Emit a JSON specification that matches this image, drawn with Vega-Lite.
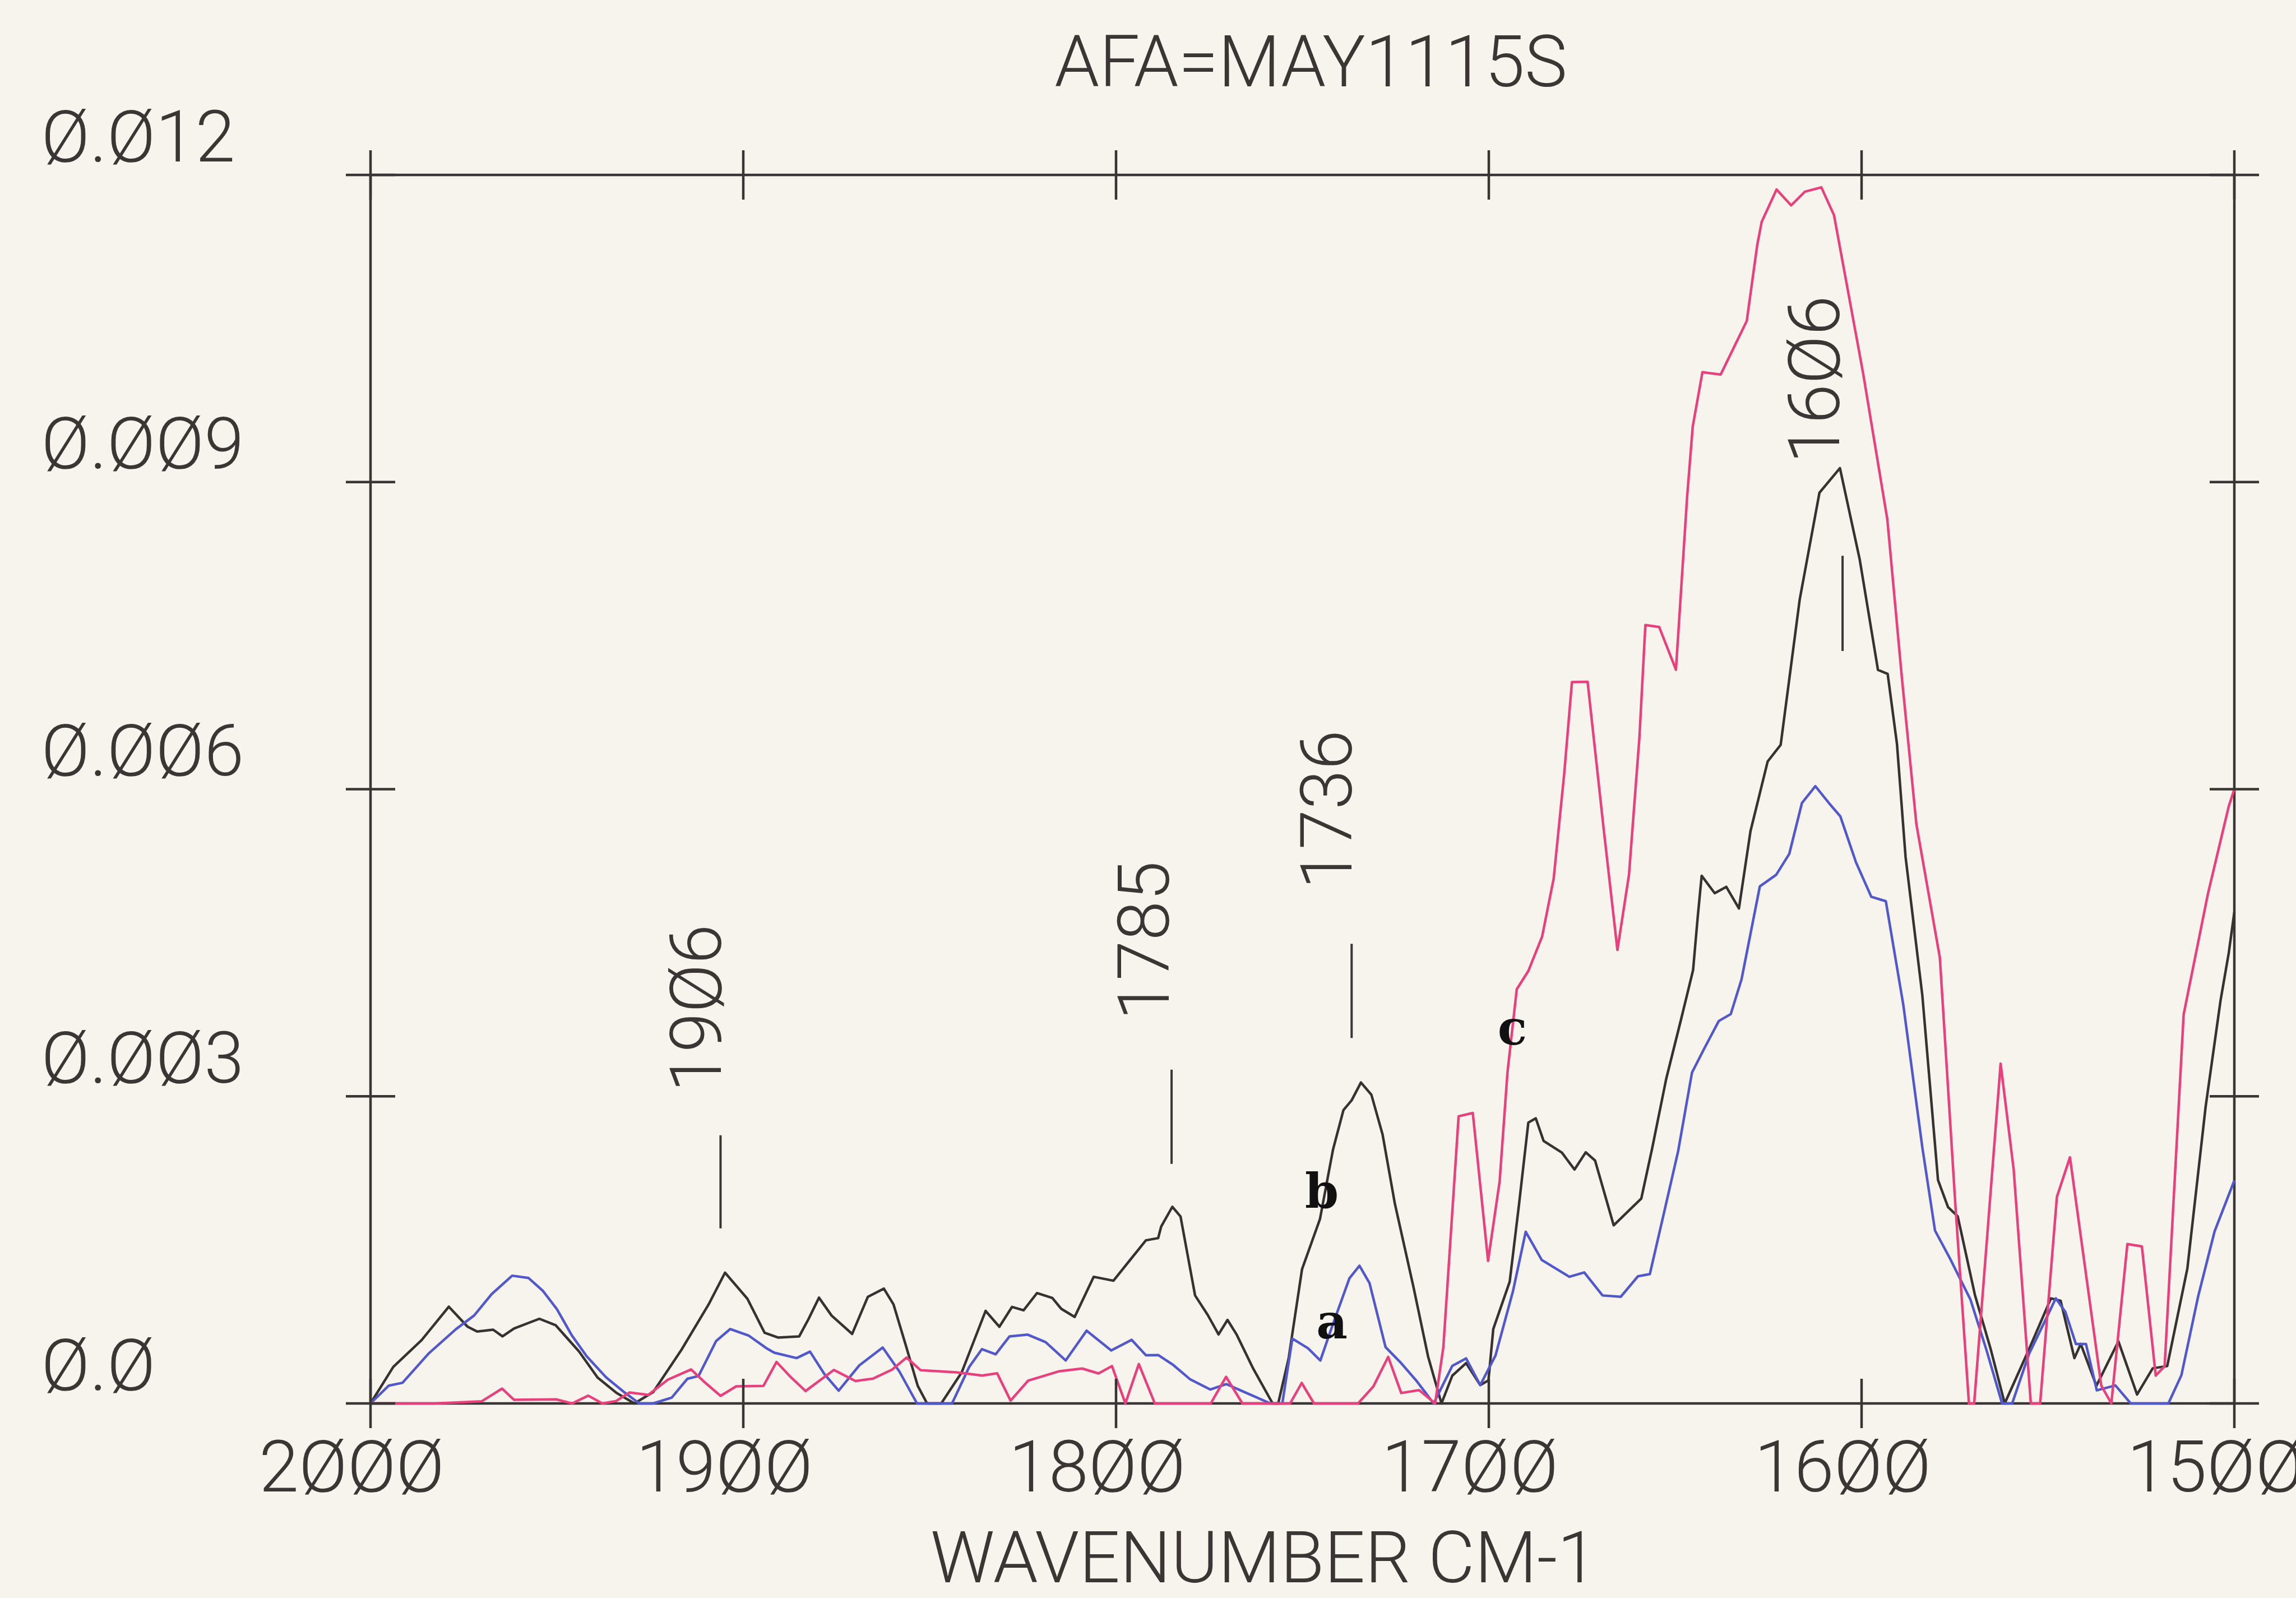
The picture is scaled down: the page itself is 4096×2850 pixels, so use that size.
{
"$schema": "https://vega.github.io/schema/vega-lite/v6.json",
"width": 3325, "height": 2191,
"autosize": {"type": "none"},
"padding": {"left": 661, "top": 312, "right": 110, "bottom": 347},
"background": "#f6f4ec",
"config": {"view": {"stroke": "#3a3535", "strokeWidth": 4.5}},
"title": {"text": "AFA=MAY1115S", "anchor": "middle", "frame": "group", "offset": 0, "dy": 97, "baseline": "alphabetic", "font": "Roboto", "fontSize": 128, "fontWeight": 300, "color": "#3b3535", "dx": 15},
"datasets": {
"spectra": [
{"s":"b","i":1,"w":2000,"a":0},{"s":"b","i":2,"w":1993.9,"a":0.000357},{"s":"b","i":3,"w":1986.3,"a":0.000618},{"s":"b","i":4,"w":1979,"a":0.000945},{"s":"b","i":5,"w":1974,"a":0.000751},{"s":"b","i":6,"w":1971.4,"a":0.000702},{"s":"b","i":7,"w":1967.1,"a":0.00072},{"s":"b","i":8,"w":1964.6,"a":0.000655},{"s":"b","i":9,"w":1961.5,"a":0.000732},{"s":"b","i":10,"w":1954.7,"a":0.000827},
{"s":"b","i":11,"w":1950.3,"a":0.000763},{"s":"b","i":12,"w":1944.1,"a":0.000509},{"s":"b","i":13,"w":1939.1,"a":0.000253},{"s":"b","i":14,"w":1934.1,"a":0.000105},{"s":"b","i":15,"w":1929.2,"a":0},{"s":"b","i":16,"w":1924.2,"a":0.00011},{"s":"b","i":17,"w":1916.6,"a":0.000523},{"s":"b","i":18,"w":1909.3,"a":0.000967},{"s":"b","i":19,"w":1904.9,"a":0.001277},{"s":"b","i":20,"w":1898.9,"a":0.001023},
{"s":"b","i":21,"w":1894.3,"a":0.000691},{"s":"b","i":22,"w":1890.6,"a":0.000643},{"s":"b","i":23,"w":1885,"a":0.000655},{"s":"b","i":24,"w":1882.5,"a":0.000824},{"s":"b","i":25,"w":1879.7,"a":0.001033},{"s":"b","i":26,"w":1876.3,"a":0.000858},{"s":"b","i":27,"w":1870.8,"a":0.000679},{"s":"b","i":28,"w":1866.6,"a":0.00104},{"s":"b","i":29,"w":1862.3,"a":0.001122},{"s":"b","i":30,"w":1859.7,"a":0.000967},
{"s":"b","i":31,"w":1856.5,"a":0.00058},{"s":"b","i":32,"w":1853.2,"a":0.000172},{"s":"b","i":33,"w":1850.7,"a":0},{"s":"b","i":34,"w":1846.9,"a":0},{"s":"b","i":35,"w":1841.4,"a":0.000304},{"s":"b","i":36,"w":1835,"a":0.000904},{"s":"b","i":37,"w":1831.3,"a":0.000749},{"s":"b","i":38,"w":1827.9,"a":0.000943},{"s":"b","i":39,"w":1824.8,"a":0.00091},{"s":"b","i":40,"w":1821.2,"a":0.001078},
{"s":"b","i":41,"w":1817.1,"a":0.00103},{"s":"b","i":42,"w":1814.7,"a":0.000924},{"s":"b","i":43,"w":1811.1,"a":0.000845},{"s":"b","i":44,"w":1806,"a":0.001237},{"s":"b","i":45,"w":1800.7,"a":0.001199},{"s":"b","i":46,"w":1796.4,"a":0.001394},{"s":"b","i":47,"w":1792,"a":0.001593},{"s":"b","i":48,"w":1788.7,"a":0.001615},{"s":"b","i":49,"w":1787.9,"a":0.001727},{"s":"b","i":50,"w":1784.9,"a":0.001921},
{"s":"b","i":51,"w":1782.7,"a":0.001826},{"s":"b","i":52,"w":1778.8,"a":0.001055},{"s":"b","i":53,"w":1775.4,"a":0.000864},{"s":"b","i":54,"w":1772.5,"a":0.000674},{"s":"b","i":55,"w":1770.1,"a":0.000816},{"s":"b","i":56,"w":1767.7,"a":0.000676},{"s":"b","i":57,"w":1763.2,"a":0.00034},{"s":"b","i":58,"w":1758,"a":0},{"s":"b","i":59,"w":1756.5,"a":0},{"s":"b","i":60,"w":1753.7,"a":0.000441},
{"s":"b","i":61,"w":1750.1,"a":0.001312},{"s":"b","i":62,"w":1745.3,"a":0.0018},{"s":"b","i":63,"w":1741.8,"a":0.002479},{"s":"b","i":64,"w":1739,"a":0.002865},{"s":"b","i":65,"w":1736.8,"a":0.002961},{"s":"b","i":66,"w":1734.3,"a":0.003135},{"s":"b","i":67,"w":1731.5,"a":0.003015},{"s":"b","i":68,"w":1728.5,"a":0.002627},{"s":"b","i":69,"w":1725.2,"a":0.001951},{"s":"b","i":70,"w":1720.2,"a":0.001135},
{"s":"b","i":71,"w":1716.3,"a":0.00046},{"s":"b","i":72,"w":1712.7,"a":0},{"s":"b","i":73,"w":1709.8,"a":0.000271},{"s":"b","i":74,"w":1706.1,"a":0.000394},{"s":"b","i":75,"w":1702.3,"a":0.000179},{"s":"b","i":76,"w":1700.1,"a":0.000225},{"s":"b","i":77,"w":1698.8,"a":0.000727},{"s":"b","i":78,"w":1694.4,"a":0.001189},{"s":"b","i":79,"w":1691.9,"a":0.001943},{"s":"b","i":80,"w":1689.4,"a":0.002743},
{"s":"b","i":81,"w":1687.4,"a":0.002785},{"s":"b","i":82,"w":1685.3,"a":0.002564},{"s":"b","i":83,"w":1680.4,"a":0.00245},{"s":"b","i":84,"w":1677,"a":0.002285},{"s":"b","i":85,"w":1674,"a":0.002453},{"s":"b","i":86,"w":1671.5,"a":0.002373},{"s":"b","i":87,"w":1666.5,"a":0.00174},{"s":"b","i":88,"w":1661.9,"a":0.001903},{"s":"b","i":89,"w":1659.1,"a":0.002001},{"s":"b","i":90,"w":1656.2,"a":0.002488},
{"s":"b","i":91,"w":1652.4,"a":0.003172},{"s":"b","i":92,"w":1648.4,"a":0.003755},{"s":"b","i":93,"w":1645.2,"a":0.004233},{"s":"b","i":94,"w":1644,"a":0.004734},{"s":"b","i":95,"w":1642.9,"a":0.005154},{"s":"b","i":96,"w":1639.4,"a":0.004984},{"s":"b","i":97,"w":1636.3,"a":0.005046},{"s":"b","i":98,"w":1632.9,"a":0.004835},{"s":"b","i":99,"w":1629.8,"a":0.00559},{"s":"b","i":100,"w":1625.2,"a":0.00627},
{"s":"b","i":101,"w":1621.7,"a":0.006434},{"s":"b","i":102,"w":1616.6,"a":0.007852},{"s":"b","i":103,"w":1611.3,"a":0.008896},{"s":"b","i":104,"w":1605.8,"a":0.009136},{"s":"b","i":105,"w":1600.5,"a":0.008244},{"s":"b","i":106,"w":1595.6,"a":0.007165},{"s":"b","i":107,"w":1593,"a":0.007126},{"s":"b","i":108,"w":1590.5,"a":0.00644},{"s":"b","i":109,"w":1588.2,"a":0.005339},{"s":"b","i":110,"w":1583.7,"a":0.003986},
{"s":"b","i":111,"w":1579.5,"a":0.002183},{"s":"b","i":112,"w":1576.8,"a":0.001917},{"s":"b","i":113,"w":1574.2,"a":0.001827},{"s":"b","i":114,"w":1569.6,"a":0.001061},{"s":"b","i":115,"w":1565.3,"a":0.000522},{"s":"b","i":116,"w":1561.6,"a":0},{"s":"b","i":117,"w":1555.1,"a":0.000528},{"s":"b","i":118,"w":1549.2,"a":0.001026},{"s":"b","i":119,"w":1546.6,"a":0.001002},{"s":"b","i":120,"w":1542.9,"a":0.000443},
{"s":"b","i":121,"w":1541.2,"a":0.000581},{"s":"b","i":122,"w":1537,"a":0.000173},{"s":"b","i":123,"w":1531.1,"a":0.000606},{"s":"b","i":124,"w":1526.1,"a":0.000087},{"s":"b","i":125,"w":1521.9,"a":0.000343},{"s":"b","i":126,"w":1518,"a":0.000365},{"s":"b","i":127,"w":1512.6,"a":0.001318},{"s":"b","i":128,"w":1507.7,"a":0.002898},{"s":"b","i":129,"w":1503.7,"a":0.003936},{"s":"b","i":130,"w":1501.5,"a":0.0044},{"s":"b","i":131,"w":1500,"a":0.0048},
{"s":"a","i":1,"w":2000,"a":0},{"s":"a","i":2,"w":1995.1,"a":0.000174},{"s":"a","i":3,"w":1991.4,"a":0.000202},{"s":"a","i":4,"w":1984.4,"a":0.000488},{"s":"a","i":5,"w":1977.1,"a":0.000725},{"s":"a","i":6,"w":1972.2,"a":0.000859},{"s":"a","i":7,"w":1967.5,"a":0.001068},{"s":"a","i":8,"w":1962,"a":0.001248},{"s":"a","i":9,"w":1957.6,"a":0.001225},{"s":"a","i":10,"w":1953.8,"a":0.001101},
{"s":"a","i":11,"w":1950,"a":0.000921},{"s":"a","i":12,"w":1946,"a":0.000665},{"s":"a","i":13,"w":1942,"a":0.00046},{"s":"a","i":14,"w":1936.8,"a":0.000255},{"s":"a","i":15,"w":1931.8,"a":0.000106},{"s":"a","i":16,"w":1927.9,"a":0},{"s":"a","i":17,"w":1924.2,"a":0},{"s":"a","i":18,"w":1919.2,"a":0.000057},{"s":"a","i":19,"w":1915,"a":0.000241},{"s":"a","i":20,"w":1912,"a":0.000268},
{"s":"a","i":21,"w":1907.3,"a":0.000609},{"s":"a","i":22,"w":1903.5,"a":0.000727},{"s":"a","i":23,"w":1898.6,"a":0.000664},{"s":"a","i":24,"w":1893.6,"a":0.000535},{"s":"a","i":25,"w":1891.7,"a":0.000496},{"s":"a","i":26,"w":1885.7,"a":0.000443},{"s":"a","i":27,"w":1882.1,"a":0.000506},{"s":"a","i":28,"w":1878.2,"a":0.000285},{"s":"a","i":29,"w":1874.4,"a":0.000125},{"s":"a","i":30,"w":1868.9,"a":0.000371},
{"s":"a","i":31,"w":1862.6,"a":0.000546},{"s":"a","i":32,"w":1858.1,"a":0.000311},{"s":"a","i":33,"w":1853.4,"a":0},{"s":"a","i":34,"w":1844,"a":0},{"s":"a","i":35,"w":1839.4,"a":0.000356},{"s":"a","i":36,"w":1836,"a":0.00053},{"s":"a","i":37,"w":1832.3,"a":0.00048},{"s":"a","i":38,"w":1828.6,"a":0.000654},{"s":"a","i":39,"w":1823.7,"a":0.000672},{"s":"a","i":40,"w":1818.9,"a":0.000599},
{"s":"a","i":41,"w":1813.5,"a":0.00042},{"s":"a","i":42,"w":1807.9,"a":0.000711},{"s":"a","i":43,"w":1801.3,"a":0.000517},{"s":"a","i":44,"w":1795.8,"a":0.000621},{"s":"a","i":45,"w":1792,"a":0.000471},{"s":"a","i":46,"w":1788.7,"a":0.000473},{"s":"a","i":47,"w":1784.6,"a":0.000374},{"s":"a","i":48,"w":1780.1,"a":0.000235},{"s":"a","i":49,"w":1774.7,"a":0.000136},{"s":"a","i":50,"w":1770.4,"a":0.000189},
{"s":"a","i":51,"w":1766.2,"a":0.000121},{"s":"a","i":52,"w":1758.6,"a":0},{"s":"a","i":53,"w":1755.4,"a":0},{"s":"a","i":54,"w":1752.7,"a":0.000633},{"s":"a","i":55,"w":1748.5,"a":0.000539},{"s":"a","i":56,"w":1745.2,"a":0.000419},{"s":"a","i":57,"w":1742.2,"a":0.000735},{"s":"a","i":58,"w":1737.4,"a":0.001222},{"s":"a","i":59,"w":1734.7,"a":0.001345},{"s":"a","i":60,"w":1732,"a":0.001175},
{"s":"a","i":61,"w":1727.7,"a":0.00055},{"s":"a","i":62,"w":1723.8,"a":0.000405},{"s":"a","i":63,"w":1719.3,"a":0.000216},{"s":"a","i":64,"w":1714.8,"a":0},{"s":"a","i":65,"w":1709.8,"a":0.000367},{"s":"a","i":66,"w":1706.1,"a":0.00044},{"s":"a","i":67,"w":1702.3,"a":0.000179},{"s":"a","i":68,"w":1698.2,"a":0.000469},{"s":"a","i":69,"w":1693.5,"a":0.001099},{"s":"a","i":70,"w":1690.1,"a":0.001677},
{"s":"a","i":71,"w":1685.8,"a":0.001401},{"s":"a","i":72,"w":1678.4,"a":0.001237},{"s":"a","i":73,"w":1674.4,"a":0.00128},{"s":"a","i":74,"w":1669.5,"a":0.001055},{"s":"a","i":75,"w":1664.6,"a":0.001042},{"s":"a","i":76,"w":1660,"a":0.001242},{"s":"a","i":77,"w":1656.8,"a":0.001264},{"s":"a","i":78,"w":1652.9,"a":0.001878},{"s":"a","i":79,"w":1649.2,"a":0.002466},{"s":"a","i":80,"w":1645.5,"a":0.003231},
{"s":"a","i":81,"w":1642.3,"a":0.00346},{"s":"a","i":82,"w":1638.3,"a":0.003736},{"s":"a","i":83,"w":1635.1,"a":0.003803},{"s":"a","i":84,"w":1632.2,"a":0.004143},{"s":"a","i":85,"w":1627.3,"a":0.00505},{"s":"a","i":86,"w":1622.9,"a":0.005164},{"s":"a","i":87,"w":1619.4,"a":0.005368},{"s":"a","i":88,"w":1616,"a":0.005865},{"s":"a","i":89,"w":1612.4,"a":0.006029},{"s":"a","i":90,"w":1608.4,"a":0.005849},
{"s":"a","i":91,"w":1605.7,"a":0.005734},{"s":"a","i":92,"w":1601.5,"a":0.005286},{"s":"a","i":93,"w":1597.4,"a":0.004949},{"s":"a","i":94,"w":1593.5,"a":0.004906},{"s":"a","i":95,"w":1588.8,"a":0.003892},{"s":"a","i":96,"w":1583.7,"a":0.0025},{"s":"a","i":97,"w":1580.3,"a":0.001688},{"s":"a","i":98,"w":1576.3,"a":0.001417},{"s":"a","i":99,"w":1570.8,"a":0.001015},{"s":"a","i":100,"w":1566.5,"a":0.000522},
{"s":"a","i":101,"w":1562.3,"a":0},{"s":"a","i":102,"w":1559.6,"a":0},{"s":"a","i":103,"w":1555.1,"a":0.000482},{"s":"a","i":104,"w":1550.3,"a":0.000844},{"s":"a","i":105,"w":1547.9,"a":0.001027},{"s":"a","i":106,"w":1545.3,"a":0.000892},{"s":"a","i":107,"w":1542.5,"a":0.00058},{"s":"a","i":108,"w":1539.8,"a":0.000581},{"s":"a","i":109,"w":1536.9,"a":0.000128},{"s":"a","i":110,"w":1531.9,"a":0.000176},
{"s":"a","i":111,"w":1527.8,"a":0},{"s":"a","i":112,"w":1517.7,"a":0},{"s":"a","i":113,"w":1514.2,"a":0.000276},{"s":"a","i":114,"w":1509.7,"a":0.001047},{"s":"a","i":115,"w":1505.3,"a":0.001681},{"s":"a","i":116,"w":1500,"a":0.002178},
{"s":"c","i":1,"w":2000,"a":0},{"s":"c","i":2,"w":1982.7,"a":0},{"s":"c","i":3,"w":1970.2,"a":0.00002},{"s":"c","i":4,"w":1964.7,"a":0.000145},{"s":"c","i":5,"w":1961.5,"a":0.000035},{"s":"c","i":6,"w":1950.2,"a":0.00004},{"s":"c","i":7,"w":1945.9,"a":0},{"s":"c","i":8,"w":1941.6,"a":0.000076},{"s":"c","i":9,"w":1937.8,"a":0},{"s":"c","i":10,"w":1934.1,"a":0.000024},
{"s":"c","i":11,"w":1930.5,"a":0.000107},{"s":"c","i":12,"w":1925.5,"a":0.000084},{"s":"c","i":13,"w":1920.2,"a":0.000233},{"s":"c","i":14,"w":1914,"a":0.000332},{"s":"c","i":15,"w":1910.7,"a":0.000218},{"s":"c","i":16,"w":1906.1,"a":0.000074},{"s":"c","i":17,"w":1901.9,"a":0.000167},{"s":"c","i":18,"w":1894.6,"a":0.000171},{"s":"c","i":19,"w":1891.1,"a":0.000405},{"s":"c","i":20,"w":1887.2,"a":0.000255},
{"s":"c","i":21,"w":1883.3,"a":0.000121},{"s":"c","i":22,"w":1875.7,"a":0.000327},{"s":"c","i":23,"w":1869.9,"a":0.000219},{"s":"c","i":24,"w":1865.2,"a":0.000242},{"s":"c","i":25,"w":1860.1,"a":0.00033},{"s":"c","i":26,"w":1856.2,"a":0.000448},{"s":"c","i":27,"w":1852.4,"a":0.000324},{"s":"c","i":28,"w":1842.9,"a":0.000304},{"s":"c","i":29,"w":1835.9,"a":0.000272},{"s":"c","i":30,"w":1831.9,"a":0.000294},
{"s":"c","i":31,"w":1828.3,"a":0.000028},{"s":"c","i":32,"w":1823.6,"a":0.000222},{"s":"c","i":33,"w":1815.4,"a":0.000313},{"s":"c","i":34,"w":1809.1,"a":0.000341},{"s":"c","i":35,"w":1804.7,"a":0.000293},{"s":"c","i":36,"w":1801.1,"a":0.000365},{"s":"c","i":37,"w":1797.5,"a":0},{"s":"c","i":38,"w":1793.9,"a":0.000385},{"s":"c","i":39,"w":1789.6,"a":0},{"s":"c","i":40,"w":1774.6,"a":0},
{"s":"c","i":41,"w":1770.5,"a":0.00026},{"s":"c","i":42,"w":1766.1,"a":0},{"s":"c","i":43,"w":1753.3,"a":0},{"s":"c","i":44,"w":1750.2,"a":0.0002},{"s":"c","i":45,"w":1746.9,"a":0},{"s":"c","i":46,"w":1735.1,"a":0},{"s":"c","i":47,"w":1731,"a":0.000164},{"s":"c","i":48,"w":1727,"a":0.000454},{"s":"c","i":49,"w":1723.5,"a":0.000102},{"s":"c","i":50,"w":1718.7,"a":0.00013},
{"s":"c","i":51,"w":1714.4,"a":0},{"s":"c","i":52,"w":1712.2,"a":0.000548},{"s":"c","i":53,"w":1708.1,"a":0.002805},{"s":"c","i":54,"w":1704.3,"a":0.002837},{"s":"c","i":55,"w":1700.2,"a":0.001393},{"s":"c","i":56,"w":1697.1,"a":0.002168},{"s":"c","i":57,"w":1695,"a":0.003231},{"s":"c","i":58,"w":1692.5,"a":0.004046},{"s":"c","i":59,"w":1689.4,"a":0.004224},{"s":"c","i":60,"w":1685.7,"a":0.00456},
{"s":"c","i":61,"w":1682.6,"a":0.005128},{"s":"c","i":62,"w":1679.8,"a":0.006141},{"s":"c","i":63,"w":1677.7,"a":0.007046},{"s":"c","i":64,"w":1673.5,"a":0.007049},{"s":"c","i":65,"w":1669.2,"a":0.005615},{"s":"c","i":66,"w":1665.5,"a":0.004429},{"s":"c","i":67,"w":1662.4,"a":0.005164},{"s":"c","i":68,"w":1659.6,"a":0.006505},{"s":"c","i":69,"w":1658,"a":0.007603},{"s":"c","i":70,"w":1654.3,"a":0.007584},
{"s":"c","i":71,"w":1649.8,"a":0.007167},{"s":"c","i":72,"w":1646.8,"a":0.008857},{"s":"c","i":73,"w":1645.3,"a":0.009541},{"s":"c","i":74,"w":1642.7,"a":0.010073},{"s":"c","i":75,"w":1637.8,"a":0.01005},{"s":"c","i":76,"w":1630.8,"a":0.010574},{"s":"c","i":77,"w":1628,"a":0.011314},{"s":"c","i":78,"w":1626.8,"a":0.011542},{"s":"c","i":79,"w":1622.8,"a":0.011858},{"s":"c","i":80,"w":1618.9,"a":0.011703},
{"s":"c","i":81,"w":1615.2,"a":0.011836},{"s":"c","i":82,"w":1610.8,"a":0.011879},{"s":"c","i":83,"w":1607.4,"a":0.011608},{"s":"c","i":84,"w":1599.6,"a":0.010065},{"s":"c","i":85,"w":1593.1,"a":0.008637},{"s":"c","i":86,"w":1589.2,"a":0.007093},{"s":"c","i":87,"w":1585.3,"a":0.005658},{"s":"c","i":88,"w":1579,"a":0.004353},{"s":"c","i":89,"w":1574.8,"a":0.001918},{"s":"c","i":90,"w":1571.2,"a":0},
{"s":"c","i":91,"w":1569.8,"a":0},{"s":"c","i":92,"w":1562.7,"a":0.003319},{"s":"c","i":93,"w":1559.2,"a":0.002285},{"s":"c","i":94,"w":1554.6,"a":0},{"s":"c","i":95,"w":1552.1,"a":0},{"s":"c","i":96,"w":1547.6,"a":0.002018},{"s":"c","i":97,"w":1544.1,"a":0.002404},{"s":"c","i":98,"w":1535.7,"a":0.000174},{"s":"c","i":99,"w":1533,"a":0},{"s":"c","i":100,"w":1528.7,"a":0.001557},
{"s":"c","i":101,"w":1524.8,"a":0.001534},{"s":"c","i":102,"w":1521.1,"a":0.000272},{"s":"c","i":103,"w":1518.7,"a":0.000364},{"s":"c","i":104,"w":1513.6,"a":0.0038},{"s":"c","i":105,"w":1507.1,"a":0.004976},{"s":"c","i":106,"w":1501.5,"a":0.005833},{"s":"c","i":107,"w":1500,"a":0.006}
],
"xticks": [
{"w":2000,"a":0},{"w":1900,"a":0},{"w":1800,"a":0},{"w":1700,"a":0},{"w":1600,"a":0},{"w":1500,"a":0},
{"w":2000,"a":0.012},{"w":1900,"a":0.012},{"w":1800,"a":0.012},{"w":1700,"a":0.012},{"w":1600,"a":0.012},{"w":1500,"a":0.012}
],
"yticks": [
{"w":2000,"a":0},{"w":2000,"a":0.003},{"w":2000,"a":0.006},{"w":2000,"a":0.009},{"w":2000,"a":0.012},
{"w":1500,"a":0},{"w":1500,"a":0.003},{"w":1500,"a":0.006},{"w":1500,"a":0.009},{"w":1500,"a":0.012}
],
"peaklines": [
{"w":1906.1,"a":0.00171,"a2":0.00262},{"w":1785.1,"a":0.00234,"a2":0.00326},{"w":1736.8,"a":0.00357,"a2":0.00449},{"w":1605.1,"a":0.00735,"a2":0.00828}
],
"peaktext": [
{"w":1911.7,"a":0.00386,"t":"19Ø6"},{"w":1791.6,"a":0.00452,"t":"1785"},{"w":1742.6,"a":0.0058,"t":"1736"},{"w":1611.7,"a":0.0100,"t":"16Ø6"}
],
"letters": [
{"w":1693.7,"a":0.00365,"t":"c"},{"w":1744.8,"a":0.00205,"t":"b"},{"w":1742.1,"a":0.000775,"t":"a"}
]
},
"encoding": {
"x": {"field": "w", "type": "quantitative", "scale": {"domain": [2000, 1500], "nice": false, "zero": false},
 "axis": {"values": [2000,1900,1800,1700,1600,1500], "format": "d", "labelExpr": "replace(datum.label, regexp('0','g'), 'Ø')", "ticks": false, "tickSize": 0, "domain": false, "grid": false, "labelPadding": 156, "labelOffset": -34, "labelBaseline": "alphabetic", "labelAlign": "center", "labelFont": "Roboto", "labelFontSize": 128, "labelFontWeight": 300, "labelColor": "#3b3535", "labelFlush": false, "labelOverlap": false, "labelLimit": 3000, "title": "WAVENUMBER CM-1", "titleFont": "Roboto", "titleFontSize": 128, "titleFontWeight": 300, "titleColor": "#3b3535", "titleX": 1593, "titleY": 318, "titleBaseline": "alphabetic", "titleAlign": "center", "titleAngle": 0}},
"y": {"field": "a", "type": "quantitative", "scale": {"domain": [0, 0.012], "nice": false, "zero": false},
 "axis": {"values": [0,0.003,0.006,0.009,0.012], "labelExpr": "datum.value == 0 ? 'Ø.Ø' : replace(format(datum.value, '.3f'), regexp('0','g'), 'Ø')", "ticks": false, "tickSize": 0, "domain": false, "grid": false, "labelAlign": "left", "labelBaseline": "alphabetic", "labelPadding": 588, "labelOffset": -25, "labelFont": "Roboto", "labelFontSize": 128, "labelFontWeight": 300, "labelColor": "#3b3535", "labelFlush": false, "labelOverlap": false, "labelLimit": 3000, "title": null}}
},
"layer": [
{"data": {"name": "spectra"}, "mark": {"type": "line", "strokeWidth": 4.5, "strokeJoin": "round"},
 "encoding": {"color": {"field": "s", "type": "nominal", "scale": {"domain": ["a","b","c"], "range": ["#5058cc","#363232","#e8407d"]}, "legend": null}, "order": {"field": "i", "type": "quantitative"}}},
{"data": {"name": "xticks"}, "mark": {"type": "tick", "orient": "vertical", "size": 88, "thickness": 4.5, "color": "#3a3535", "opacity": 1}},
{"data": {"name": "yticks"}, "mark": {"type": "tick", "orient": "horizontal", "size": 88, "thickness": 4.5, "color": "#3a3535", "opacity": 1}},
{"data": {"name": "peaklines"}, "mark": {"type": "rule", "strokeWidth": 4, "color": "#3b3535"}, "encoding": {"y2": {"field": "a2"}}},
{"data": {"name": "peaktext"}, "mark": {"type": "text", "angle": 270, "align": "center", "baseline": "middle", "font": "Roboto", "fontSize": 128, "fontWeight": 300, "color": "#3b3535"}, "encoding": {"text": {"field": "t", "type": "nominal"}}},
{"data": {"name": "letters"}, "mark": {"type": "text", "align": "center", "baseline": "middle", "font": "DejaVu Serif", "fontSize": 86, "fontWeight": "bold", "color": "#111111"}, "encoding": {"text": {"field": "t", "type": "nominal"}}}
]
}
